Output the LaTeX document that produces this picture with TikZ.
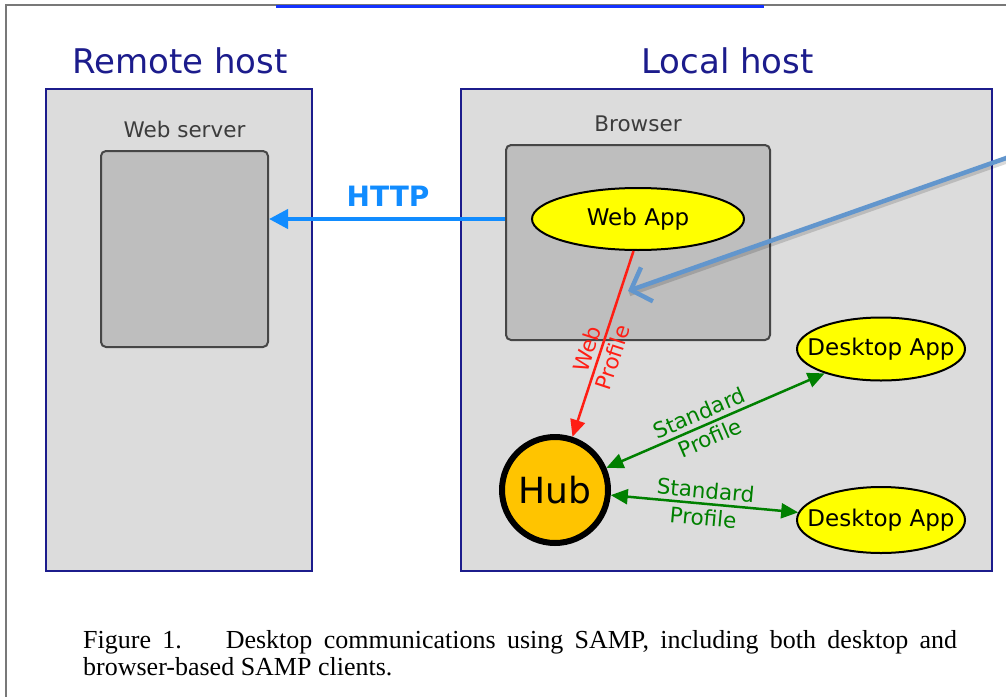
\documentclass[tikz,border=0pt]{standalone}
\usepackage{fontspec}
\setmainfont{Liberation Serif}
\newfontfamily\diagfont{DejaVu Sans}
\usetikzlibrary{arrows.meta,shapes.geometric}
\definecolor{navyc}{RGB}{28,28,140}
\definecolor{hostfill}{RGB}{220,220,220}
\definecolor{innerfill}{RGB}{190,190,190}
\definecolor{innerdraw}{RGB}{70,70,70}
\definecolor{labelgray}{RGB}{60,60,60}
\definecolor{httpblue}{RGB}{17,140,255}
\definecolor{webred}{RGB}{255,30,20}
\definecolor{stdgreen}{RGB}{0,128,0}
\definecolor{appyellow}{RGB}{255,255,0}
\definecolor{huborange}{RGB}{255,196,0}
\definecolor{pointerblue}{RGB}{98,150,205}
\definecolor{linkblue}{RGB}{20,50,255}
\definecolor{framegray}{RGB}{120,120,120}
\begin{document}
\begin{tikzpicture}[x=1pt,y=-1pt,
  hostbox/.style={draw=navyc, line width=2.5pt, fill=hostfill, inner sep=0pt},
  innerbox/.style={draw=innerdraw, line width=2pt, fill=innerfill, rounded corners=5pt, inner sep=0pt},
  titletext/.style={text=navyc, font=\diagfont\fontsize{34}{40}\selectfont, inner sep=0pt, anchor=base},
  boxlabel/.style={text=labelgray, font=\diagfont\fontsize{21.5}{25}\selectfont, inner sep=0pt, anchor=base},
  app/.style={ellipse, draw=black, line width=2pt, fill=appyellow, inner sep=0pt,
    font=\diagfont\fontsize{23}{27}\selectfont},
  hubnode/.style={circle, draw=black, line width=6pt, fill=huborange, minimum size=106pt, inner sep=0pt,
    font=\diagfont\fontsize{36}{40}\selectfont},
  httparrow/.style={draw=httpblue, line width=4pt, -{Triangle[length=19pt,width=19pt]}},
  webarrow/.style={draw=webred, line width=2.5pt, -{Triangle[length=17pt,width=15pt]}},
  stdarrow/.style={draw=stdgreen, line width=2.5pt, {Triangle[length=17pt,width=15pt]}-{Triangle[length=17pt,width=15pt]}},
  linklabel/.style={sloped, align=center, inner sep=0pt, font=\diagfont\fontsize{21.5}{27}\selectfont},
  pointer/.style={draw=pointerblue, line width=4.5pt, -{Straight Barb[length=17pt,width=36pt]}}
]
\useasboundingbox (0,0) rectangle (1006,696);
\fill[white] (0,0) rectangle (1006,696);

% page frame and cut-off link underline
\coordinate (framebl) at (6,697);
\coordinate (frametl) at (6,5);
\coordinate (frametr) at (1007,5);
\draw[framegray, line width=1.5pt] (framebl) -- (frametl) -- (frametr);
\coordinate (linkl) at (276,6);
\coordinate (linkr) at (764,6);
\draw[linkblue, line width=3pt] (linkl) -- (linkr);

% host boxes
\node[hostbox, minimum width=266pt, minimum height=482pt] (remotebox) at (179,330) {};
\node[hostbox, minimum width=531pt, minimum height=482pt] (localbox) at (726.5,330) {};
\node[titletext] (remotetitle) at (180,73) {Remote host};
\node[titletext] (localtitle) at (727.5,73) {Local host};

% inner boxes
\node[innerbox, minimum width=167pt, minimum height=196pt] (webserver) at (184.5,249) {};
\node[boxlabel] (webserverlabel) at (184.5,137) {Web server};
\node[innerbox, minimum width=264pt, minimum height=195pt] (browser) at (638,242.5) {};
\node[boxlabel] (browserlabel) at (638,131) {Browser};

% apps
\node[app, minimum width=212pt, minimum height=62pt] (webapp) at (638,219) {Web App};
\node[app, inner xsep=-16pt, minimum width=168pt, minimum height=63pt] (desk1) at (881,349) {Desktop App};
\node[app, inner xsep=-16pt, minimum width=168pt, minimum height=66pt] (desk2) at (881,520) {Desktop App};
\node[hubnode] (hub) at (555,490) {Hub};

% HTTP
\draw[httparrow] (browser.west |- webapp.center) -- (webserver.east |- webapp.center);
\node[text=httpblue, font=\diagfont\bfseries\fontsize{28}{32}\selectfont, inner sep=0pt, anchor=base] (httplabel) at (388,206) {HTTP};

% profiles
\draw[webarrow] (webapp.262) -- node[linklabel, text=webred, pos=0.55] (weblabel) {Web\\Profile} (hub);
\draw[stdarrow] (hub) -- node[linklabel, text=stdgreen, pos=0.45] (std1label) {Standard\\Profile} (desk1);
\draw[stdarrow] (hub) -- node[linklabel, text=stdgreen, pos=0.5] (std2label) {Standard\\Profile} (desk2);

% annotation pointer
\coordinate (ptrstart) at (1012,156);
\coordinate (ptrtip) at (628,291);
\draw[black, opacity=0.15, line width=4.5pt] ([shift={(1.5,3)}]ptrstart) -- ([shift={(1.5,3)}]ptrtip);
\draw[pointer] (ptrstart) -- (ptrtip);

% caption
\node[anchor=base west, inner sep=0pt] (caption) at (83,648) {\parbox[t]{874pt}{\fontsize{26}{27.5}\selectfont
Figure 1.\hspace{0.8em} Desktop communications using SAMP, including both desktop and\linebreak browser-based SAMP clients.}};
\end{tikzpicture}
\end{document}
